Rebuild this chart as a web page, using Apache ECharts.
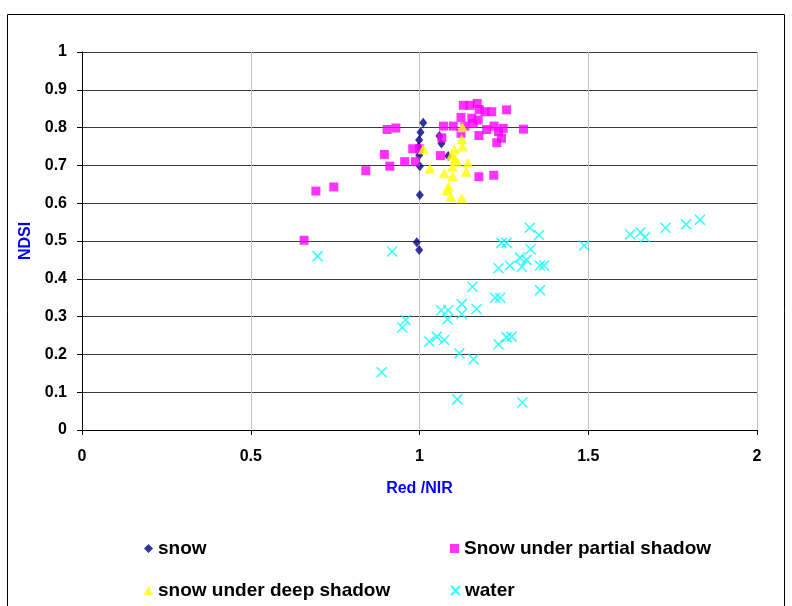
<!DOCTYPE html>
<html>
<head>
<meta charset="utf-8">
<script src="https://cdn.jsdelivr.net/npm/echarts@6/dist/echarts.min.js"></script>
<style>html,body{margin:0;padding:0;background:#fff}#c{width:792px;height:606px}</style>
</head>
<body>
<div id="c"></div>
<script>
const seriesNames = ['snow', 'Snow under partial shadow', 'snow under deep shadow', 'water'];
const xTicks = [0, 0.5, 1, 1.5, 2];
const yTicks = [0, 0.1, 0.2, 0.3, 0.4, 0.5, 0.6, 0.7, 0.8, 0.9, 1];

const snow = [[1.011,0.813],[1.003,0.788],[0.999,0.767],[0.997,0.749],[0.999,0.727],[1.001,0.698],[1.001,0.622],[0.992,0.497],[0.999,0.476],[1.059,0.778],[1.065,0.758],[1.085,0.725]];
const partialShadow = [[0.658,0.502],[0.693,0.632],[0.746,0.643],[0.841,0.686],[0.896,0.729],[0.912,0.698],[0.904,0.795],[0.930,0.799],[0.956,0.710],[0.980,0.744],[0.988,0.710],[1.000,0.744],[1.066,0.773],[1.062,0.726],[1.071,0.804],[1.100,0.804],[1.123,0.827],[1.130,0.859],[1.150,0.859],[1.171,0.864],[1.177,0.848],[1.194,0.842],[1.214,0.842],[1.258,0.847],[1.155,0.825],[1.174,0.820],[1.135,0.804],[1.159,0.811],[1.199,0.795],[1.221,0.804],[1.248,0.798],[1.234,0.789],[1.308,0.796],[1.176,0.779],[1.243,0.772],[1.229,0.760],[1.176,0.670],[1.220,0.674],[1.123,0.785]];
const deepShadow = [[1.127,0.801],[1.125,0.769],[1.127,0.750],[1.011,0.743],[1.103,0.743],[1.095,0.727],[1.105,0.719],[1.110,0.710],[1.143,0.707],[1.031,0.692],[1.097,0.697],[1.138,0.683],[1.073,0.679],[1.098,0.672],[1.086,0.644],[1.083,0.635],[1.093,0.617],[1.125,0.613]];
const water = [[0.698,0.460],[0.919,0.472],[0.888,0.153],[0.959,0.291],[0.949,0.271],[1.029,0.234],[1.051,0.247],[1.073,0.238],[1.064,0.317],[1.085,0.317],[1.083,0.293],[1.125,0.333],[1.125,0.307],[1.157,0.379],[1.169,0.320],[1.118,0.203],[1.160,0.187],[1.112,0.081],[1.305,0.073],[1.224,0.350],[1.239,0.350],[1.234,0.227],[1.258,0.245],[1.273,0.247],[1.243,0.495],[1.258,0.495],[1.234,0.428],[1.268,0.435],[1.298,0.456],[1.317,0.450],[1.303,0.432],[1.329,0.478],[1.327,0.535],[1.354,0.516],[1.357,0.435],[1.369,0.435],[1.357,0.370],[1.488,0.488],[1.624,0.517],[1.655,0.523],[1.668,0.510],[1.729,0.535],[1.790,0.544],[1.831,0.556]];

const FONT = '"Liberation Sans", Arial, sans-serif';
const crossPath = 'path://M0,0L10,10M10,0L0,10';

const chart = echarts.init(document.getElementById('c'), null, {renderer: 'canvas'});

function legendAt(name, left, top) {
  return {
    data: [name], left: left, top: top, orient: 'horizontal',
    itemWidth: 9, itemHeight: 9, itemGap: 4, padding: 0,
    textStyle: {fontFamily: FONT, fontWeight: 'bold', fontSize: 19, color: '#000'},
    selectedMode: false
  };
}

chart.setOption({
  animation: false,
  backgroundColor: '#fff',
  graphic: [{
    type: 'rect', shape: {x: 7.5, y: 14.5, width: 777, height: 620},
    style: {fill: 'none', stroke: '#000', lineWidth: 1}, silent: true
  }],
  grid: {left: 82, right: 35, top: 52, bottom: 176, containLabel: false},
  xAxis: {
    type: 'value', min: xTicks[0], max: xTicks[xTicks.length - 1], interval: 0.5,
    name: 'Red /NIR', nameLocation: 'middle', nameGap: 51,
    nameTextStyle: {color: '#0000FF', fontWeight: 'bold', fontSize: 16, fontFamily: FONT},
    axisLine: {show: true, onZero: false, lineStyle: {color: '#000', width: 1}},
    axisTick: {show: true, inside: false, length: 5, lineStyle: {color: '#000'}},
    axisLabel: {color: '#000', fontWeight: 'bold', fontSize: 16, fontFamily: FONT, margin: 19},
    splitLine: {show: true, lineStyle: {color: '#c0c0c0', width: 1}}
  },
  yAxis: {
    type: 'value', min: yTicks[0], max: yTicks[yTicks.length - 1], interval: 0.1,
    name: 'NDSI', nameLocation: 'middle', nameGap: 44, nameRotate: 90,
    nameTextStyle: {color: '#0000FF', fontWeight: 'bold', fontSize: 16, fontFamily: FONT},
    axisLine: {show: true, onZero: false, lineStyle: {color: '#000', width: 1}},
    axisTick: {show: true, inside: false, length: 5, lineStyle: {color: '#000'}},
    axisLabel: {color: '#000', fontWeight: 'bold', fontSize: 16, fontFamily: FONT, margin: 15},
    splitLine: {show: true, lineStyle: {color: '#3a3a3a', width: 1}}
  },
  legend: [
    legendAt(seriesNames[0], 144, 539),
    legendAt(seriesNames[1], 450, 539),
    legendAt(seriesNames[2], 144, 581),
    legendAt(seriesNames[3], 450, 581)
  ],
  series: [
    {name: seriesNames[0], type: 'scatter', data: snow, symbol: 'diamond', symbolSize: [8, 10],
     itemStyle: {color: '#000080'}},
    {name: seriesNames[1], type: 'scatter', data: partialShadow, symbol: 'rect', symbolSize: 9,
     itemStyle: {color: '#FF00FF'}},
    {name: seriesNames[2], type: 'scatter', data: deepShadow, symbol: 'triangle', symbolSize: [11, 10],
     itemStyle: {color: '#FFFF00'}},
    {name: seriesNames[3], type: 'scatter', data: water, symbol: crossPath, symbolSize: 10,
     itemStyle: {color: 'transparent', borderColor: '#00FFFF', borderWidth: 1.5}}
  ]
});
</script>
</body>
</html>
